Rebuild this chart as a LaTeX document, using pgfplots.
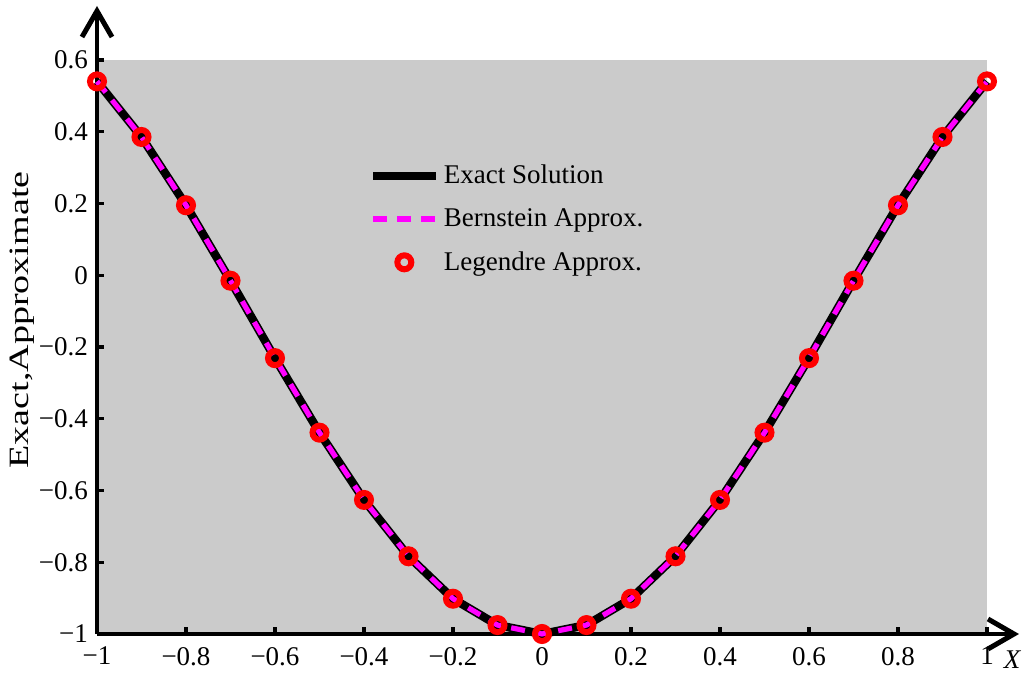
\documentclass[border=0pt]{standalone}
\usepackage{fontspec}
\setmainfont{Liberation Serif}
\usepackage{pgfplots}
\pgfplotsset{compat=1.18}
\usetikzlibrary{arrows.meta}
\definecolor{bg}{RGB}{203,203,203}
\definecolor{mred}{RGB}{255,0,0}
\definecolor{mmag}{RGB}{255,0,255}
\newcommand{\ff}{\fontsize{13.5}{16}\selectfont}
\pgfplotsset{
  longline/.style={legend image code/.code={\draw[##1] (0cm,0cm) -- (1.1cm,0cm);}},
  longmark/.style={legend image code/.code={\draw[mark repeat=2,mark phase=2,##1] plot coordinates {(0cm,0cm) (0.55cm,0cm) (1.1cm,0cm)};}},
}
\begin{document}
\begin{tikzpicture}
\begin{axis}[
  name=ax,
  scale only axis,
  width=445pt, height=287pt,
  xmin=-1, xmax=1, ymin=-1, ymax=0.6,
  axis lines=left,
  axis background/.style={fill=bg},
  x axis line style={line width=2pt, -{Straight Barb[length=13pt,width=15pt,line width=2.5pt]}, shorten >=-16pt},
  y axis line style={line width=2pt, -{Straight Barb[length=13pt,width=15pt,line width=2.5pt]}, shorten >=-27pt},
  tick align=inside,
  major tick length=3.5pt,
  every tick/.style={black, line width=1.6pt},
  xtick={-1,-0.8,-0.6,-0.4,-0.2,0,0.2,0.4,0.6,0.8,1},
  xticklabels={−1,−0.8,−0.6,−0.4,−0.2,0,0.2,0.4,0.6,0.8,1},
  ytick={-1,-0.8,-0.6,-0.4,-0.2,0,0.2,0.4,0.6},
  yticklabels={−1,−0.8,−0.6,−0.4,−0.2,0,0.2,0.4,0.6},
  tick label style={font=\ff},
  xticklabel style={yshift=-3pt},
  yticklabel style={xshift=-1pt},
  ylabel={\scalebox{1.36}[1]{Exact,Approximate}},
  ylabel style={font=\fontsize{14}{16}\selectfont, at={(axis description cs:-0.0843,0.547)}, anchor=center},
  xlabel={\itshape X},
  xlabel style={font=\ff, at={(axis description cs:1,0)}, anchor=center, xshift=12.5pt, yshift=-13pt},
  legend style={draw=none, fill=none, at={(axis description cs:0.305,0.825)}, anchor=north west,
    font=\ff, row sep=7pt, inner sep=0pt},
  legend cell align=left,
  clip=false,
]
\addplot[black, line width=4.2pt, longline] coordinates {
(-1,0.5403) (-0.9,0.3854) (-0.8,0.1951) (-0.7,-0.0153) (-0.6,-0.2311) (-0.5,-0.4388)
(-0.4,-0.6263) (-0.3,-0.7834) (-0.2,-0.9017) (-0.1,-0.9751) (0,-1)
(0.1,-0.9751) (0.2,-0.9017) (0.3,-0.7834) (0.4,-0.6263) (0.5,-0.4388)
(0.6,-0.2311) (0.7,-0.0153) (0.8,0.1951) (0.9,0.3854) (1,0.5403)};
\addlegendentry{Exact Solution}
\addplot[mmag, line width=2.6pt, dash pattern=on 7pt off 5pt, longline] coordinates {
(-1,0.5403) (-0.9,0.3854) (-0.8,0.1951) (-0.7,-0.0153) (-0.6,-0.2311) (-0.5,-0.4388)
(-0.4,-0.6263) (-0.3,-0.7834) (-0.2,-0.9017) (-0.1,-0.9751) (0,-1)
(0.1,-0.9751) (0.2,-0.9017) (0.3,-0.7834) (0.4,-0.6263) (0.5,-0.4388)
(0.6,-0.2311) (0.7,-0.0153) (0.8,0.1951) (0.9,0.3854) (1,0.5403)};
\addlegendentry{Bernstein Approx.}
\addplot[only marks, mark=o, mark size=3.5pt, mred, line width=3pt, longmark] coordinates {
(-1,0.5403) (-0.9,0.3854) (-0.8,0.1951) (-0.7,-0.0153) (-0.6,-0.2311) (-0.5,-0.4388)
(-0.4,-0.6263) (-0.3,-0.7834) (-0.2,-0.9017) (-0.1,-0.9751) (0,-1)
(0.1,-0.9751) (0.2,-0.9017) (0.3,-0.7834) (0.4,-0.6263) (0.5,-0.4388)
(0.6,-0.2311) (0.7,-0.0153) (0.8,0.1951) (0.9,0.3854) (1,0.5403)};
\addlegendentry{Legendre Approx.}
\end{axis}
\pgfresetboundingbox
\path ([shift={(-48.5pt,-20pt)}]ax.south west) rectangle ([shift={(465.5pt,317pt)}]ax.south west);
\end{tikzpicture}
\end{document}
